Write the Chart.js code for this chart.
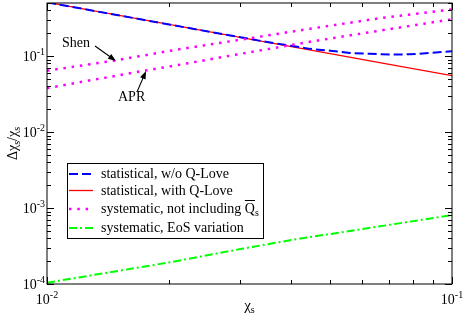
<!DOCTYPE html>
<html>
<head>
<meta charset="utf-8">
<script src="https://cdn.jsdelivr.net/npm/chart.js@4.4.1/dist/chart.umd.min.js"></script>
<style>
  html, body { margin: 0; padding: 0; background: #fff; }
  #wrap { width: 463px; height: 323px; }
</style>
</head>
<body>
<div id="wrap"><canvas id="c" width="463" height="323"></canvas></div>
<script>
// values (log-log axes)
const statNoLoveX = [0.01, 0.02, 0.03, 0.035, 0.04, 0.0446, 0.05, 0.056, 0.0627, 0.0703, 0.0787, 0.0883, 0.1]
const statNoLoveY = [0.51, 0.261, 0.177, 0.153, 0.137, 0.1245, 0.118, 0.110, 0.107, 0.1047, 0.1056, 0.110, 0.116]
const statLoveX = [0.01, 0.02, 0.03, 0.05, 0.07, 0.1]
const statLoveY = [0.51, 0.261, 0.176, 0.1075, 0.0777, 0.0552]
const shenX = [0.01, 0.0148, 0.0205, 0.0303, 0.0446, 0.0651, 0.096, 0.1]
const shenY = [0.0642, 0.088, 0.1194, 0.1656, 0.229, 0.311, 0.401, 0.411]
const aprX = [0.01, 0.017, 0.0205, 0.0303, 0.0446, 0.0651, 0.096, 0.1]
const aprY = [0.0379, 0.0629, 0.0744, 0.1079, 0.1545, 0.213, 0.295, 0.305]
const eosX = [0.01, 0.02, 0.03, 0.0422, 0.05, 0.07, 0.1]
const eosY = [1.04e-4, 1.92e-4, 2.88e-4, 3.98e-4, 4.55e-4, 6.0e-4, 8.1e-4]

const legendLabels = ['statistical, w/o Q-Love', 'statistical, with Q-Love', 'systematic, not including ', 'systematic, EoS variation']

// axis ticks: value and the exponent printed on it
const xTickVals = [0.01, 0.1]
const xTickExp = ['-2', '-1']
const yTickVals = [1e-4, 1e-3, 1e-2, 1e-1]
const yTickExp = ['-4', '-3', '-2', '-1']

const toPts = (xs, ys) => xs.map((x, i) => ({ x, y: ys[i] }))

const SERIF = '"Liberation Serif", "Times New Roman", serif'

// little helper for "10" + superscript text
const drawPower = (ctx, x, y, exp, align) => {
  ctx.font = '14px ' + SERIF
  const wb = ctx.measureText('10').width
  ctx.font = '10px ' + SERIF
  const we = ctx.measureText(exp).width
  const total = wb + we
  let left = x
  if (align === 'center') left = x - total / 2
  if (align === 'right') left = x - total
  ctx.textAlign = 'left'
  ctx.textBaseline = 'alphabetic'
  ctx.font = '14px ' + SERIF
  ctx.fillText('10', left, y)
  ctx.font = '10px ' + SERIF
  ctx.fillText(exp, left + wb, y - 6)
}

const drawArrow = (ctx, x1, y1, x2, y2) => {
  const ang = Math.atan2(y2 - y1, x2 - x1)
  const len = 8, half = 3
  ctx.beginPath()
  ctx.moveTo(x1, y1)
  ctx.lineTo(x2 - Math.cos(ang) * len * 0.8, y2 - Math.sin(ang) * len * 0.8)
  ctx.lineWidth = 1.1
  ctx.strokeStyle = '#000'
  ctx.stroke()
  ctx.beginPath()
  ctx.moveTo(x2, y2)
  ctx.lineTo(x2 - Math.cos(ang) * len + Math.sin(ang) * half, y2 - Math.sin(ang) * len - Math.cos(ang) * half)
  ctx.lineTo(x2 - Math.cos(ang) * len - Math.sin(ang) * half, y2 - Math.sin(ang) * len + Math.cos(ang) * half)
  ctx.closePath()
  ctx.fillStyle = '#000'
  ctx.fill()
}

const decorations = {
  id: 'decorations',
  afterDraw(chart) {
    const { ctx, chartArea: a, scales } = chart
    const xs = scales.x, ys = scales.y
    ctx.save()

    // frame
    ctx.strokeStyle = '#000'
    ctx.lineWidth = 1
    ctx.setLineDash([])
    ctx.strokeRect(a.left, a.top, a.right - a.left, a.bottom - a.top)

    // inward ticks, log style
    ctx.beginPath()
    for (let d = -2; d <= -1; d++) {
      for (let k = 1; k <= 9; k++) {
        const v = k * Math.pow(10, d)
        if (v < xs.min || v > xs.max) continue
        const px = Math.round(xs.getPixelForValue(v)) + 0.5
        const len = k === 1 ? 7 : 4
        ctx.moveTo(px, a.bottom); ctx.lineTo(px, a.bottom - len)
        ctx.moveTo(px, a.top); ctx.lineTo(px, a.top + len)
      }
    }
    for (let d = -4; d <= -1; d++) {
      for (let k = 1; k <= 9; k++) {
        const v = k * Math.pow(10, d)
        if (v < ys.min || v > ys.max) continue
        const py = Math.round(ys.getPixelForValue(v)) + 0.5
        const len = k === 1 ? 7 : 4
        ctx.moveTo(a.left, py); ctx.lineTo(a.left + len, py)
        ctx.moveTo(a.right, py); ctx.lineTo(a.right - len, py)
      }
    }
    ctx.stroke()

    // tick labels
    ctx.fillStyle = '#000'
    xTickVals.forEach((v, i) => {
      drawPower(ctx, xs.getPixelForValue(v), a.bottom + 20, xTickExp[i], 'center')
    })
    yTickVals.forEach((v, i) => {
      drawPower(ctx, a.left - 2, ys.getPixelForValue(v) + 5, yTickExp[i], 'right')
    })

    // x title: chi_s
    ctx.font = '15px ' + SERIF
    ctx.textAlign = 'left'
    const cx = (a.left + a.right) / 2
    const wc = ctx.measureText('χ').width
    ctx.fillText('χ', cx - wc / 2 - 2, 310)
    ctx.font = '10px ' + SERIF
    ctx.fillText('s', cx + wc / 2 - 2, 313)

    // y title: Delta chi_s / chi_s, rotated
    ctx.save()
    ctx.translate(17, (a.top + a.bottom) / 2)
    ctx.rotate(-Math.PI / 2)
    const parts = [['Δχ', 14, 0], ['s', 10, 3], ['/χ', 14, 0], ['s', 10, 3]]
    let tw = 0
    parts.forEach(p => { ctx.font = p[1] + 'px ' + SERIF; tw += ctx.measureText(p[0]).width })
    let tx = -tw / 2
    parts.forEach(p => {
      ctx.font = p[1] + 'px ' + SERIF
      ctx.fillText(p[0], tx, p[2])
      tx += ctx.measureText(p[0]).width
    })
    ctx.restore()

    // annotations
    ctx.font = '14px ' + SERIF
    ctx.fillText('Shen', 62, 47)
    ctx.fillText('APR', 118, 101)
    drawArrow(ctx, 95, 46, 116, 61)
    drawArrow(ctx, 137, 92, 146, 71)

    // legend box
    const lx = 67, ly = 163.5, lw = 196, lh = 75
    ctx.fillStyle = '#fff'
    ctx.fillRect(lx, ly, lw, lh)
    ctx.strokeStyle = '#000'
    ctx.lineWidth = 1
    ctx.strokeRect(lx + 0.5, ly, lw, lh)
    const order = [1, 0, 2, 4]
    const rowY = [174, 190.5, 209, 228]
    order.forEach((di, r) => {
      const ds = chart.data.datasets[di]
      ctx.beginPath()
      ctx.strokeStyle = ds.borderColor
      ctx.lineWidth = ds.borderWidth
      ctx.lineCap = 'butt'
      ctx.setLineDash(ds.borderDash || [])
      ctx.moveTo(69, rowY[r])
      ctx.lineTo(93, rowY[r])
      ctx.stroke()
      ctx.setLineDash([])
      ctx.fillStyle = '#000'
      ctx.font = '14px ' + SERIF
      ctx.fillText(legendLabels[r], 101, rowY[r] + 4)
      if (r === 2) {
        // Q with overline and subscript s
        const qx = 101 + ctx.measureText(legendLabels[r]).width
        const qw = ctx.measureText('Q').width
        ctx.fillText('Q', qx, rowY[r] + 4)
        ctx.lineWidth = 1
        ctx.strokeStyle = '#000'
        ctx.beginPath()
        ctx.moveTo(qx, rowY[r] - 8.5)
        ctx.lineTo(qx + qw, rowY[r] - 8.5)
        ctx.stroke()
        ctx.font = '10px ' + SERIF
        ctx.fillText('s', qx + qw, rowY[r] + 7)
      }
    })

    ctx.restore()
  }
}

new Chart(document.getElementById('c'), {
  type: 'line',
  data: {
    datasets: [
      {
        label: 'statistical, with Q-Love',
        data: toPts(statLoveX, statLoveY),
        borderColor: '#ff0000',
        borderWidth: 1.3,
        order: 3
      },
      {
        label: 'statistical, w/o Q-Love',
        data: toPts(statNoLoveX, statNoLoveY),
        borderColor: '#0000ff',
        borderWidth: 2,
        borderDash: [9, 4],
        order: 2
      },
      {
        label: 'Shen',
        data: toPts(shenX, shenY),
        borderColor: '#ff00ff',
        borderWidth: 2.5,
        borderDash: [2.5, 5.8],
        order: 1
      },
      {
        label: 'APR',
        data: toPts(aprX, aprY),
        borderColor: '#ff00ff',
        borderWidth: 2.5,
        borderDash: [2.5, 5.8],
        order: 1
      },
      {
        label: 'systematic, EoS variation',
        data: toPts(eosX, eosY),
        borderColor: '#00ff00',
        borderWidth: 2,
        borderDash: [8, 3, 2, 3],
        order: 1
      }
    ]
  },
  options: {
    responsive: false,
    animation: false,
    elements: { point: { radius: 0 }, line: { tension: 0, borderCapStyle: 'butt', fill: false } },
    layout: { padding: { left: 47, right: 11, top: 3, bottom: 39 } },
    plugins: { legend: { display: false }, tooltip: { enabled: false } },
    scales: {
      x: { type: 'logarithmic', min: 0.01, max: 0.1, display: false },
      y: { type: 'logarithmic', min: 1e-4, max: 0.5, display: false }
    }
  },
  plugins: [decorations]
})
</script>
</body>
</html>
